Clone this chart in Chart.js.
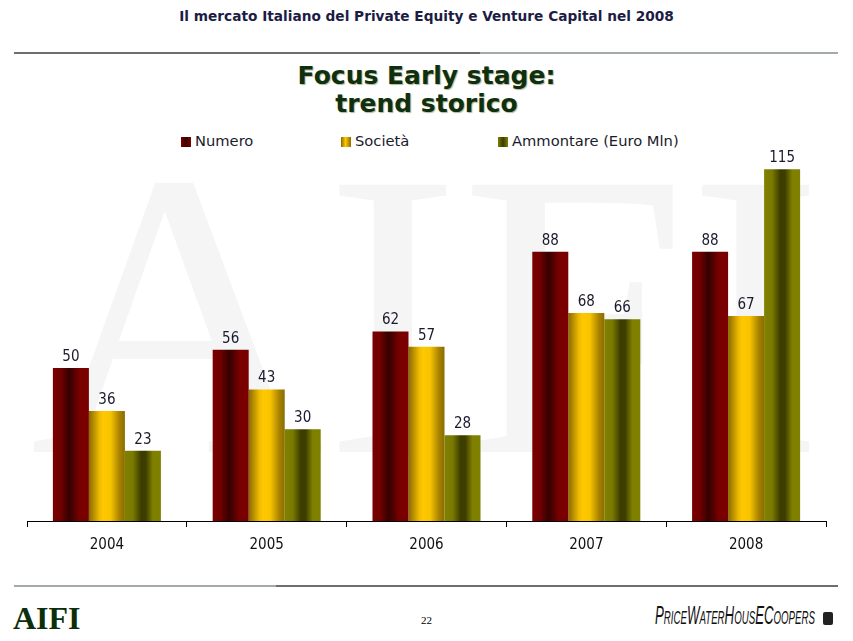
<!DOCTYPE html>
<html>
<head>
<meta charset="utf-8">
<script src="https://cdn.jsdelivr.net/npm/chart.js@4.4.0/dist/chart.umd.min.js"></script>
<style>
    body {
        margin: 0;
        width: 853px;
        height: 641px;
        position: relative;
        overflow: hidden;
        background: #fff;
        font-family: "DejaVu Sans", Verdana, sans-serif;
    }
    .abs { position: absolute; }
    .header {
        top: 8px; left: 0; width: 853px;
        text-align: center;
        font-size: 13.7px; font-weight: bold;
        color: #1c1c44;
    }
    .rule { height: 2px; }
    .title {
        top: 62px; left: 0; width: 853px;
        text-align: center;
        font-size: 25px; font-weight: bold;
        line-height: 28px;
        color: #0e300e;
        text-shadow: 1px 1px 1px rgba(90, 90, 40, 0.45);
    }
    .legend-item {
        top: 132px; height: 18px; line-height: 18px;
        font-size: 14.7px; color: #1a1a2a;
        white-space: nowrap;
    }
    .legend-item i {
        display: inline-block;
        width: 10px; height: 10px;
        margin-right: 4px;
        vertical-align: -1px;
    }
    #chart { left: 0; top: 150px; }
    .aifi {
        left: 13px; top: 600px;
        font-family: "Liberation Serif", "Times New Roman", serif;
        font-weight: bold; font-size: 32px;
        color: #0d2e0d;
    }
    .page {
        left: 0; width: 853px; top: 614px;
        text-align: center;
        font-family: "Liberation Serif", serif;
        font-size: 11px; color: #000;
    }
    .pwc {
        left: 655px; top: 601px;
        font-family: "Liberation Sans Narrow", "Liberation Sans", sans-serif;
        font-style: italic;
        color: #111;
        white-space: nowrap;
        transform-origin: 0 0;
        line-height: 28px;
    }
    .pwc b { font-weight: normal; font-size: 26px; }
    .pwc span { font-size: 19px; }
    .emblem {
        left: 823px; top: 612px;
        width: 10px; height: 13px;
        background: #222; border-radius: 2px;
    }
</style>
</head>
<body>

<div class="abs header">Il mercato Italiano del Private Equity e Venture Capital nel 2008</div>
<div class="abs rule" style="top:52px; left:14px; width:466px; background:#6e6e6e;"></div>
<div class="abs rule" style="top:52px; left:480px; width:358px; background:#a4aaa4;"></div>

<div class="abs title">Focus Early stage:<br>trend storico</div>

<div class="abs legend-item" style="left:181px;"><i style="background:linear-gradient(90deg,#7a0000 0%,#3a0000 50%,#7a0000 100%);"></i>Numero</div>
<div class="abs legend-item" style="left:341px;"><i style="background:linear-gradient(90deg,#8a6a00 0%,#ffc800 45%,#8a6c00 100%);"></i>Società</div>
<div class="abs legend-item" style="left:498px;"><i style="background:linear-gradient(90deg,#808000 0%,#3c3c00 50%,#808000 100%);"></i>Ammontare (Euro Mln)</div>

<canvas id="chart" class="abs" width="853" height="420"></canvas>

<div class="abs rule" style="top:585px; left:14px; width:262px; background:#a4aaa4;"></div>
<div class="abs rule" style="top:585px; left:276px; width:562px; background:#6e6e6e;"></div>

<div class="abs aifi">AIFI</div>
<div class="abs page">22</div>
<div class="abs pwc" id="pwc"><b>P</b><span>RICE</span><b>W</b><span>ATER</span><b>H</b><span>OUS</span><b>E</b><b>C</b><span>OOPERS</span></div>
<div class="abs emblem"></div>

<script>
// Focus Early stage - trend storico

const YEARS = ['2004', '2005', '2006', '2007', '2008'];

const NUMERO = [50, 56, 62, 88, 88];
const SOCIETA = [36, 43, 57, 68, 67];
const AMMONTARE = [23, 30, 28, 66, 115];

const SERIES_NAMES = ['Numero', 'Società', 'Ammontare (Euro Mln)'];

// horizontal shading of each bar, like the original cylinders
const BAR_SHADES = [
    [[0, '#7a0000'], [0.22, '#700000'], [0.45, '#340000'], [0.62, '#5a0000'], [0.75, '#7a0000'], [1, '#7a0000']],
    [[0, '#8a6a00'], [0.3, '#f0bc00'], [0.4, '#ffc800'], [0.6, '#f8c400'], [0.85, '#a88200'], [1, '#8a6c00']],
    [[0, '#808000'], [0.22, '#7a7a00'], [0.45, '#3c3c00'], [0.58, '#3e3e00'], [0.78, '#808000'], [1, '#808000']]
];
const FLAT = ['#7a0000', '#ffc800', '#808000'];

const Y_MAX = 120;

// squeeze the logo text into its slot
const pwc = document.getElementById('pwc');
pwc.style.transform = 'scaleX(' + (160 / pwc.offsetWidth) + ')';

// watermark behind the bars
const watermark = {
    id: 'watermark',
    beforeDraw(chart) {
        const ctx = chart.ctx;
        ctx.save();
        ctx.fillStyle = '#f5f5f5';
        ctx.font = '408px "Liberation Serif", "Times New Roman", serif';
        ctx.textBaseline = 'alphabetic';
        ctx.fillText('AIFI', 30, 302);
        ctx.restore();
    }
};

// give every bar its own gradient across its width
const barShading = {
    id: 'barShading',
    beforeDatasetsDraw(chart) {
        const ctx = chart.ctx;
        chart.data.datasets.forEach((ds, i) => {
            chart.getDatasetMeta(i).data.forEach(bar => {
                const g = ctx.createLinearGradient(bar.x - bar.width / 2, 0, bar.x + bar.width / 2, 0);
                BAR_SHADES[i].forEach(([o, c]) => g.addColorStop(o, c));
                bar.options.backgroundColor = g;
            });
        });
    }
};

// value above each bar
const valueLabels = {
    id: 'valueLabels',
    afterDatasetsDraw(chart) {
        const ctx = chart.ctx;
        ctx.save();
        ctx.font = '15px "DejaVu Sans Condensed", "DejaVu Sans", sans-serif';
        ctx.fillStyle = '#1a1a2e';
        ctx.textAlign = 'center';
        ctx.textBaseline = 'alphabetic';
        chart.data.datasets.forEach((ds, i) => {
            chart.getDatasetMeta(i).data.forEach((bar, j) => {
                ctx.fillText(ds.data[j], bar.x, bar.y - 7);
            });
        });
        ctx.restore();
    }
};

const makeDataset = (label, data, i) => ({
    label: label,
    data: data,
    backgroundColor: () => FLAT[i],
    borderWidth: 0,
    categoryPercentage: 0.676,
    barPercentage: 1.0
});

new Chart(document.getElementById('chart'), {
    type: 'bar',
    data: {
        labels: YEARS,
        datasets: [
            makeDataset(SERIES_NAMES[0], NUMERO, 0),
            makeDataset(SERIES_NAMES[1], SOCIETA, 1),
            makeDataset(SERIES_NAMES[2], AMMONTARE, 2)
        ]
    },
    options: {
        responsive: false,
        animation: false,
        layout: {
            padding: { top: 4, left: 27, right: 27, bottom: 9 }
        },
        plugins: {
            legend: { display: false },
            title: { display: false },
            tooltip: { enabled: false }
        },
        scales: {
            x: {
                afterFit: (scale) => { scale.height = 40; },
                border: { display: true, color: '#000', width: 1 },
                grid: {
                    offset: true,
                    drawOnChartArea: false,
                    drawTicks: true,
                    tickLength: 6,
                    color: '#000'
                },
                ticks: {
                    color: '#111',
                    padding: 9,
                    font: { family: '"DejaVu Sans Condensed", "DejaVu Sans", sans-serif', size: 15 }
                }
            },
            y: {
                display: false,
                min: 0,
                max: Y_MAX
            }
        }
    },
    plugins: [watermark, barShading, valueLabels]
});
</script>
</body>
</html>
